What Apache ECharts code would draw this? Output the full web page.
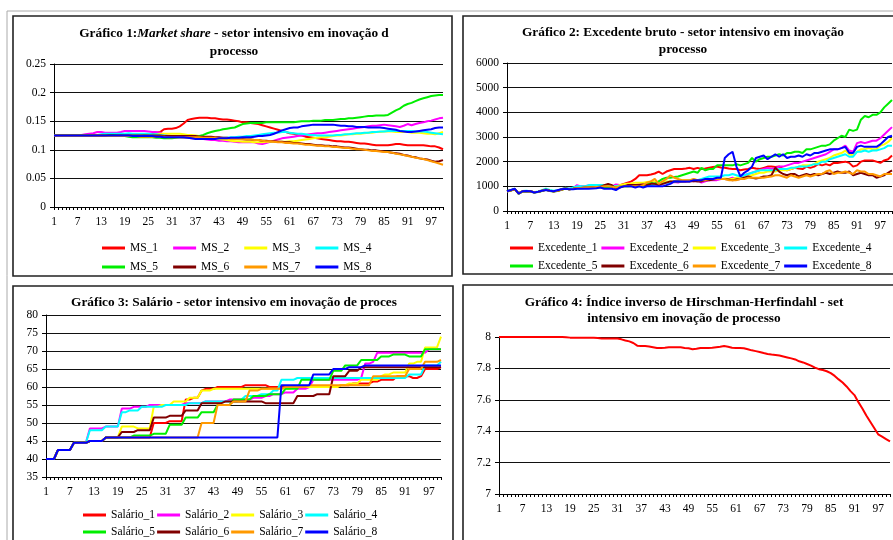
<!DOCTYPE html>
<html><head><meta charset="utf-8">
<script src="https://cdn.jsdelivr.net/npm/echarts@6/dist/echarts.min.js"></script>
<style>html,body{margin:0;padding:0;background:#fff}#c{width:893px;height:540px}</style>
</head><body><div id="c"></div>
<script>
const categories = Array.from({length: 100}, (_, i) => String(i + 1));

const ms1 = [0.125,0.125,0.125,0.125,0.125,0.125,0.125,0.125,0.125,0.125,
0.125,0.125,0.125,0.125,0.125,0.125,0.125,0.125,0.125,0.125,
0.125,0.125,0.125,0.126,0.127,0.127,0.130,0.131,0.136,0.137,
0.137,0.138,0.141,0.146,0.152,0.154,0.155,0.156,0.156,0.156,
0.155,0.155,0.154,0.153,0.153,0.152,0.151,0.150,0.148,0.148,
0.147,0.146,0.145,0.143,0.141,0.139,0.137,0.135,0.133,0.131,
0.129,0.128,0.126,0.125,0.123,0.122,0.121,0.120,0.119,0.118,
0.117,0.116,0.115,0.115,0.114,0.114,0.113,0.112,0.111,0.111,
0.110,0.109,0.108,0.108,0.108,0.108,0.109,0.110,0.110,0.109,
0.108,0.108,0.108,0.108,0.108,0.107,0.106,0.106,0.104,0.101];
const ms2 = [0.126,0.126,0.126,0.126,0.126,0.126,0.126,0.126,0.127,0.128,
0.129,0.131,0.131,0.130,0.130,0.130,0.130,0.131,0.133,0.133,
0.133,0.133,0.133,0.133,0.132,0.131,0.131,0.130,0.126,0.125,
0.124,0.123,0.122,0.121,0.121,0.120,0.120,0.119,0.119,0.118,
0.117,0.117,0.116,0.116,0.115,0.115,0.114,0.113,0.113,0.113,
0.113,0.113,0.111,0.110,0.112,0.114,0.116,0.118,0.120,0.121,
0.122,0.123,0.124,0.125,0.126,0.127,0.128,0.129,0.129,0.130,
0.131,0.132,0.133,0.134,0.135,0.136,0.137,0.138,0.139,0.140,
0.141,0.142,0.142,0.143,0.144,0.143,0.142,0.141,0.140,0.142,
0.145,0.143,0.145,0.147,0.148,0.150,0.151,0.153,0.155,0.156];
const ms3 = [0.125,0.125,0.125,0.125,0.125,0.125,0.125,0.125,0.125,0.125,
0.125,0.125,0.125,0.125,0.124,0.124,0.124,0.124,0.124,0.124,
0.124,0.124,0.124,0.124,0.125,0.126,0.127,0.128,0.128,0.128,
0.128,0.128,0.128,0.127,0.126,0.126,0.125,0.124,0.123,0.122,
0.121,0.120,0.119,0.118,0.117,0.116,0.115,0.115,0.114,0.114,
0.114,0.113,0.113,0.113,0.114,0.114,0.114,0.114,0.114,0.114,
0.115,0.115,0.116,0.117,0.118,0.119,0.120,0.121,0.122,0.122,
0.123,0.124,0.125,0.125,0.126,0.127,0.127,0.128,0.128,0.129,
0.130,0.130,0.131,0.131,0.132,0.132,0.132,0.131,0.131,0.131,
0.131,0.130,0.130,0.130,0.129,0.128,0.128,0.127,0.129,0.131];
const ms4 = [0.125,0.125,0.125,0.125,0.125,0.125,0.125,0.125,0.125,0.125,
0.125,0.126,0.127,0.128,0.128,0.128,0.128,0.128,0.128,0.129,
0.128,0.128,0.128,0.128,0.128,0.127,0.127,0.126,0.125,0.124,
0.123,0.122,0.122,0.122,0.122,0.122,0.121,0.121,0.121,0.121,
0.121,0.120,0.120,0.121,0.121,0.122,0.122,0.123,0.123,0.124,
0.124,0.125,0.126,0.127,0.128,0.129,0.130,0.130,0.131,0.131,
0.130,0.129,0.128,0.128,0.127,0.126,0.126,0.125,0.125,0.125,
0.125,0.125,0.126,0.126,0.127,0.127,0.128,0.129,0.129,0.130,
0.130,0.131,0.131,0.132,0.132,0.133,0.133,0.133,0.133,0.133,
0.133,0.133,0.132,0.132,0.132,0.131,0.130,0.129,0.128,0.127];
const ms5 = [0.126,0.126,0.126,0.126,0.126,0.126,0.126,0.126,0.126,0.126,
0.126,0.126,0.126,0.126,0.126,0.126,0.125,0.125,0.124,0.123,
0.122,0.122,0.122,0.122,0.122,0.122,0.121,0.121,0.120,0.120,
0.120,0.121,0.122,0.122,0.122,0.122,0.123,0.124,0.126,0.129,
0.131,0.133,0.134,0.136,0.137,0.138,0.139,0.142,0.145,0.146,
0.147,0.147,0.147,0.147,0.148,0.148,0.148,0.148,0.148,0.148,
0.148,0.148,0.149,0.150,0.150,0.150,0.151,0.151,0.151,0.152,
0.152,0.152,0.153,0.154,0.154,0.155,0.155,0.156,0.157,0.158,
0.159,0.159,0.160,0.160,0.160,0.161,0.165,0.169,0.172,0.177,
0.180,0.182,0.185,0.188,0.190,0.192,0.194,0.195,0.196,0.196];
const ms6 = [0.125,0.125,0.125,0.125,0.125,0.125,0.125,0.125,0.125,0.125,
0.125,0.125,0.125,0.125,0.125,0.125,0.125,0.125,0.125,0.125,
0.125,0.125,0.125,0.125,0.125,0.125,0.125,0.125,0.124,0.124,
0.124,0.124,0.124,0.124,0.124,0.124,0.124,0.123,0.123,0.123,
0.123,0.122,0.122,0.121,0.121,0.120,0.120,0.119,0.119,0.118,
0.118,0.117,0.117,0.116,0.116,0.115,0.115,0.114,0.114,0.113,
0.113,0.112,0.112,0.111,0.110,0.110,0.109,0.108,0.108,0.107,
0.107,0.106,0.106,0.105,0.104,0.104,0.103,0.102,0.101,0.100,
0.100,0.099,0.099,0.098,0.097,0.096,0.095,0.094,0.093,0.091,
0.090,0.088,0.087,0.085,0.084,0.083,0.081,0.079,0.080,0.082];
const ms7 = [0.125,0.125,0.125,0.125,0.125,0.125,0.125,0.125,0.125,0.125,
0.125,0.125,0.125,0.125,0.124,0.124,0.124,0.124,0.124,0.124,
0.124,0.124,0.123,0.123,0.123,0.123,0.123,0.123,0.123,0.122,
0.122,0.122,0.122,0.122,0.122,0.122,0.122,0.122,0.121,0.121,
0.121,0.121,0.120,0.120,0.120,0.119,0.119,0.119,0.118,0.118,
0.118,0.117,0.117,0.116,0.115,0.115,0.114,0.113,0.113,0.112,
0.112,0.111,0.111,0.110,0.109,0.109,0.108,0.107,0.107,0.106,
0.106,0.105,0.105,0.104,0.103,0.103,0.102,0.101,0.101,0.100,
0.099,0.098,0.098,0.097,0.096,0.096,0.095,0.093,0.092,0.091,
0.089,0.088,0.086,0.085,0.084,0.082,0.080,0.078,0.076,0.074];
const ms8 = [0.125,0.125,0.125,0.125,0.125,0.125,0.125,0.125,0.125,0.125,
0.125,0.125,0.125,0.125,0.125,0.125,0.125,0.125,0.125,0.125,
0.124,0.124,0.124,0.124,0.124,0.124,0.123,0.123,0.122,0.122,
0.122,0.122,0.122,0.122,0.121,0.120,0.119,0.119,0.119,0.119,
0.119,0.119,0.120,0.120,0.120,0.121,0.121,0.121,0.122,0.122,
0.122,0.123,0.124,0.124,0.125,0.126,0.128,0.131,0.134,0.136,
0.138,0.139,0.139,0.141,0.142,0.143,0.144,0.144,0.144,0.144,
0.144,0.144,0.143,0.142,0.142,0.141,0.141,0.140,0.140,0.140,
0.139,0.139,0.139,0.139,0.138,0.137,0.136,0.135,0.133,0.132,
0.131,0.131,0.132,0.133,0.134,0.135,0.136,0.138,0.139,0.139];

const exc1 = [800,840,880,720,800,810,800,760,780,820,
880,830,800,820,880,930,880,910,960,930,
940,950,960,960,980,990,1010,990,1000,1050,
1100,1150,1200,1300,1450,1450,1450,1480,1520,1600,
1500,1600,1650,1700,1700,1700,1720,1750,1700,1750,
1700,1720,1750,1780,1800,1760,1750,1720,1700,1700,
1650,1680,1700,1750,1720,1700,1750,1800,1800,1780,
1800,1700,1650,1700,1750,1720,1700,1800,1750,1800,
1900,1850,1900,1850,1950,1950,1980,2000,1950,1800,
1850,2000,2050,2050,2050,2000,1950,2050,2100,2250];
const exc2 = [790,830,890,720,800,800,790,750,780,820,
870,820,790,830,870,930,900,920,1050,1000,
1000,1030,1000,1050,1050,1020,1000,1000,1080,1050,
1050,1080,1080,1050,1100,1080,1100,1100,1120,1080,
1100,1150,1150,1180,1150,1200,1200,1250,1200,1250,
1150,1200,1250,1250,1250,1300,1300,1300,1350,1300,
1350,1450,1500,1550,1600,1650,1700,1750,1700,1750,
1800,1800,1850,1900,1950,1950,2000,2050,2100,2150,
2200,2250,2300,2400,2500,2500,2550,2650,2450,2400,
2750,2800,2750,2800,2850,2850,2950,3100,3250,3400];
const exc3 = [800,840,880,710,800,800,790,760,780,830,
870,830,800,820,860,910,880,900,950,960,
980,980,970,1000,1000,1010,1000,990,1000,1050,
1080,1100,1120,1150,1150,1150,1180,1200,1200,1100,
1150,1200,1200,1200,1200,1250,1250,1250,1280,1250,
1250,1280,1300,1300,1300,1300,1320,1300,1300,1350,
1350,1350,1400,1450,1500,1550,1550,1600,1600,1600,
1650,1650,1650,1700,1750,1800,1850,1850,1850,1900,
2000,2050,2100,2150,2250,2300,2350,2450,2300,2250,
2400,2500,2500,2550,2500,2500,2650,2700,2800,2950];
const exc4 = [810,850,900,720,810,820,800,760,790,840,
900,850,820,840,880,940,900,950,1000,1000,
1000,1050,1050,1050,1050,1050,1050,1000,1000,1000,
1000,1000,1020,1000,1000,1020,1050,1050,1080,1100,
1100,1150,1150,1200,1200,1200,1220,1250,1250,1250,
1300,1350,1400,1400,1400,1400,1450,1450,1500,1450,
1400,1450,1500,1550,1600,1650,1650,1650,1650,1650,
1700,1700,1700,1750,1750,1800,1800,1800,1850,1900,
1900,2000,2000,2100,2150,2200,2250,2300,2200,2200,
2400,2400,2450,2400,2450,2450,2500,2550,2650,2650];
const exc5 = [790,830,880,700,790,800,790,750,770,810,
860,810,790,810,860,910,880,900,930,920,
930,940,940,950,960,970,980,970,950,980,
1000,1000,1000,1020,1050,1050,1100,1150,1100,1200,
1300,1350,1350,1380,1400,1450,1500,1550,1600,1550,
1750,1650,1700,1700,1850,1850,1850,1850,1850,1900,
1850,1900,1950,2150,2000,2100,2150,2200,2200,2250,
2300,2250,2350,2350,2400,2400,2350,2500,2500,2550,
2600,2650,2650,2700,2850,2950,3050,3000,3300,3250,
3300,3700,3850,3800,3900,3900,4000,4200,4350,4500];
const exc6 = [800,840,880,710,800,810,800,760,780,820,
860,820,800,820,870,910,880,900,930,930,
950,950,960,970,980,1050,1100,1050,900,950,
1000,1050,1050,1050,1050,1080,1050,1100,1100,1050,
1100,1150,1200,1200,1200,1200,1200,1200,1220,1200,
1200,1250,1250,1280,1300,1300,1300,1280,1250,1280,
1300,1350,1400,1350,1320,1350,1400,1400,1450,1750,
1600,1500,1450,1500,1500,1400,1450,1500,1450,1500,
1450,1500,1550,1500,1550,1600,1550,1550,1600,1450,
1500,1550,1500,1450,1450,1350,1400,1450,1550,1650];
const exc7 = [800,840,880,710,800,800,790,760,780,820,
860,820,800,820,860,910,880,900,930,930,
950,950,960,970,980,1000,1000,980,950,1000,
1000,1000,1000,1000,1000,1050,1150,1200,1300,1100,
1200,1300,1450,1350,1300,1250,1250,1250,1300,1250,
1250,1250,1300,1300,1300,1300,1300,1250,1250,1250,
1300,1300,1350,1350,1350,1350,1350,1380,1400,1450,
1450,1400,1350,1450,1400,1350,1400,1450,1400,1450,
1500,1500,1600,1650,1500,1550,1550,1600,1550,1500,
1650,1600,1600,1500,1500,1450,1400,1500,1500,1500];
const exc8 = [800,850,900,700,800,810,800,750,780,820,
850,820,800,840,880,900,880,880,900,900,
900,900,910,920,950,900,900,900,850,950,
1000,1000,1000,950,1000,950,1000,1000,1000,1000,
1000,1050,1100,1200,1200,1200,1200,1200,1250,1250,
1250,1300,1300,1300,1350,1350,2150,2300,2400,1800,
1400,1550,1650,1800,2150,2200,2250,2100,2200,2300,
2200,2300,2150,2200,2200,2250,2200,2300,2250,2350,
2350,2400,2450,2500,2500,2500,2550,2600,2350,2350,
2600,2650,2600,2600,2600,2600,2700,2850,3000,3050];

const sal1 = [40,40,40,42.5,42.5,42.5,42.5,44.5,44.5,44.5,
44.5,45,45,45,45,46,46,46,46,46,
46,46,46,46,46,46,46,50,50,50,
50,50.5,50.5,50.5,50.5,56.5,56.5,57,57,59,
59.5,59.5,59.5,60,60,60,60,60,60,60,
60.5,60.5,60.5,60.5,60.5,60.5,60,60,60,60,
60,60,60,60,60,60,60,60,60,60,
60,60,60,60,60.5,60.5,60.5,61,61,61,
61,61,61.5,61.5,62,62,62,62,63,63,
63,63,62.5,62.5,63,65,65,65,65,65.5];
const sal2 = [40,40,40,42.5,42.5,42.5,42.5,44.5,44.5,44.5,
44.5,48.5,48.5,48.5,48.5,49,49,49,49,54,
54,54,54.5,54.5,54.5,54.5,55,55,55,55,
55,55,55,55,55,55.5,55.5,55.5,55.5,55.5,
56,56,56,56,56,56,56.5,56.5,56.5,56.5,
56.5,56.5,57,57,57,57.5,57.5,58,58,58,
58.5,58.5,58.5,59.5,59.5,59.5,60,62,62,62,
62,62,62,62,62,62,62,62,62,62.5,
66.5,66.5,67,69.5,69.5,69.5,69.5,69.5,69.5,69.5,
69.5,69.5,69.5,69.5,69.5,69.5,70.5,70.5,70.5,70.5];
const sal3 = [40,40,40,42.5,42.5,42.5,42.5,44.5,44.5,44.5,
44.5,45,45,45,45,46,46,46,46,49,
49,49,49,48.5,48.5,48.5,48.5,54.5,54.5,55,
55,55,56,56,56,56,57,57,57,59,
59,59,59.5,59.5,59.5,59.5,59.5,59.5,59.5,59.5,
59.5,59.5,59.5,59.5,59.5,59.5,59.5,59.5,59.5,59.5,
59.5,59.5,60,60,60,60,60,60,60,60,
60,60,60,60,60.5,60.5,61,61,61,62,
62,62,62,62,63,63.5,63.5,64,64,64,
64,66.5,66.5,67,67,71,71,71,71,74];
const sal4 = [40,40,40,42.5,42.5,42.5,42.5,44.5,44.5,44.5,
44.5,48,48,48,48,49,49,49,49,53,
53,53.5,53.5,53.5,54.5,54.5,54.5,54.5,54.5,54.5,
55,55,55,55,55,55,55.5,55.5,55.5,55.5,
56,56,56,56,56,56,56,56,56,56.5,
57.5,57.5,57.5,57.5,58,58,58,59,59,62,
62,62,62,62.5,62.5,62.5,62.5,62.5,62.5,62.5,
62.5,62.5,62.5,62.5,62.5,62.5,62.5,62.5,62.5,62.5,
62.5,62.5,62.5,62.5,62.5,62.5,62.5,62.5,62.5,62.5,
62.5,63.5,63.5,63.5,63.5,66,66,66,66,67];
const sal5 = [40,40,40,42.5,42.5,42.5,42.5,44.5,44.5,44.5,
44.5,45,45,45,45,46,46,46,46,46,
46,46,46.5,46.5,46.5,46.5,46.5,47,47,47,
47,49.5,49.5,49.5,49.5,51.5,51.5,51.5,51.5,53,
53,53,53,55,55,55,55,56.5,56.5,56.5,
56.5,56.5,57.5,57.5,57.5,57.5,58,58,58,58,
59.5,59.5,59.5,59.5,62,62,62,62,62,62,
62,62,64.5,64.5,64.5,66,66,66,66,67.5,
67.5,67.5,67.5,67.5,68.5,68.5,68.5,69,69,69,
69,68.5,68.5,68.5,68.5,70.5,70.5,70.5,70.5,70.5];
const sal6 = [40,40,40,42.5,42.5,42.5,42.5,44.5,44.5,44.5,
44.5,45,45,45,45,46,46,46,46,47.5,
47.5,47.5,47.5,48,48,48,48,51.5,51.5,51.5,
51.5,52,52,52,52,53.5,53.5,53.5,53.5,55.5,
55.5,55.5,55.5,55.5,55.5,56,56,56,56,56,
56,56,56,56,56,55.5,55.5,55.5,55.5,55.5,
55.5,55.5,55.5,57.5,57.5,57.5,57.5,57.5,58,58,
58,58,63,63,63,63,64.5,64.5,64.5,65.5,
65.5,65.5,65.5,65.5,65.5,65.5,65.5,65.5,65.5,65.5,
65.5,65.5,65.5,65.5,65.5,65.5,65.5,65.5,65.5,65.5];
const sal7 = [40,40,40,42.5,42.5,42.5,42.5,44.5,44.5,44.5,
44.5,45,45,45,45,46,46,46,46,46,
46,46,46,46,46,46,46,46,46,46,
46,46,46,46,46,46,46,46,46,50,
50,50,50,55,55,55,55,56,56,56,
56,59,59,59,59.5,59.5,59.5,59.5,59.5,59.5,
60,60,60,60,60,60,60.5,60.5,60.5,60.5,
60.5,60.5,60.5,60.5,60.5,60.5,60.5,60.5,60.5,60.5,
60.5,60.5,63,63,63,63,63,63,63,63,
63,65,65,65,65,67,67,67,67,67.5];
const sal8 = [40,40,40,42.5,42.5,42.5,42.5,44.5,44.5,44.5,
44.5,45,45,45,45,46,46,46,46,46,
46,46,46,46,46,46,46,46,46,46,
46,46,46,46,46,46,46,46,46,46,
46,46,46,46,46,46,46,46,46,46,
46,46,46,46,46,46,46,46,46,60.5,
60.5,60.5,60.5,60.5,60.5,60.5,60.5,63.5,63.5,63.5,
63.5,63.5,65,65,65,65,65.5,65.5,65.5,65.5,
66,66,66,66,66,66,66,66,66,66,
66,66,66,66,66,66,66,66,66,66];

const hh = [8,8,8,8,8,8,8,8,8,8,
8,8,8,8,8,8,8,7.998,7.996,7.996,
7.996,7.996,7.996,7.996,7.995,7.994,7.99,7.99,7.99,7.99,
7.99,7.985,7.978,7.972,7.962,7.945,7.942,7.942,7.94,7.935,
7.93,7.93,7.932,7.935,7.935,7.935,7.934,7.93,7.928,7.922,
7.925,7.93,7.93,7.93,7.932,7.935,7.938,7.942,7.938,7.932,
7.93,7.93,7.928,7.922,7.915,7.91,7.905,7.898,7.892,7.888,
7.886,7.882,7.876,7.87,7.864,7.857,7.845,7.838,7.828,7.818,
7.805,7.795,7.79,7.782,7.77,7.752,7.73,7.71,7.685,7.655,
7.63,7.585,7.545,7.5,7.46,7.42,7.38,7.365,7.35,7.335];

const msNames = ['MS_1','MS_2','MS_3','MS_4','MS_5','MS_6','MS_7','MS_8'];
const excNames = ['Excedente_1','Excedente_2','Excedente_3','Excedente_4','Excedente_5','Excedente_6','Excedente_7','Excedente_8'];
const salNames = ['Salário_1','Salário_2','Salário_3','Salário_4','Salário_5','Salário_6','Salário_7','Salário_8'];
const hhName = 'Índice inverso HH';
const colors = ['#FF0000','#FF00FF','#FFFF00','#00FFFF','#00EE00','#800000','#FF9900','#0000FF'];

const FONT = "'Liberation Serif', 'Times New Roman', serif";
const msData = [ms1, ms2, ms3, ms4, ms5, ms6, ms7, ms8];
const excData = [exc1, exc2, exc3, exc4, exc5, exc6, exc7, exc8];
const salData = [sal1, sal2, sal3, sal4, sal5, sal6, sal7, sal8];

const chart = echarts.init(document.getElementById('c'), null, {renderer: 'canvas'});

function xAx(gi) {
  return {
    type: 'category', gridIndex: gi, data: categories, boundaryGap: false,
    axisLine: {show: true, lineStyle: {color: '#000', width: 1}},
    axisTick: {show: true, interval: 0, length: 3, lineStyle: {color: '#000'}},
    axisLabel: {interval: 5, margin: 9, color: '#000', fontFamily: FONT, fontSize: 11.5},
    splitLine: {show: false}
  };
}
function yAx(gi, min, max, interval) {
  return {
    type: 'value', gridIndex: gi, min, max, interval,
    axisLine: {show: true, lineStyle: {color: '#000', width: 1}},
    axisTick: {show: true, length: 4, lineStyle: {color: '#000'}},
    axisLabel: {margin: 8, color: '#000', fontFamily: FONT, fontSize: 11.5,
      formatter: v => String(Math.round(v * 1000) / 1000)},
    splitLine: {show: true, lineStyle: {color: '#111', width: 1}}
  };
}
function legendRow(names, left, top, textW, gap) {
  return {
    data: names, left, top, orient: 'horizontal', padding: 0,
    icon: 'rect', itemWidth: 23, itemHeight: 3, itemGap: gap, selectedMode: false,
    textStyle: {fontFamily: FONT, fontSize: 11.5, color: '#000', width: textW, padding: [0,0,0,0]}
  };
}
function titleText(x, y, text, rich) {
  return {type: 'text', x, y, silent: true,
    style: {text, textAlign: 'center', textVerticalAlign: 'middle', fill: '#000',
      font: 'bold 13.3px ' + FONT, rich}};
}

const richB = {
  b: {fontFamily: FONT, fontWeight: 'bold', fontSize: 13.3, fill: '#000'},
  i: {fontFamily: FONT, fontWeight: 'bold', fontStyle: 'italic', fontSize: 13.3, fill: '#000'}
};

const series = [];
msNames.forEach((n, k) => series.push({name: n, type: 'line', xAxisIndex: 0, yAxisIndex: 0, data: msData[k], showSymbol: false, symbol: 'none', color: colors[k], lineStyle: {width: 2, color: colors[k]}, animation: false}));
excNames.forEach((n, k) => series.push({name: n, type: 'line', xAxisIndex: 1, yAxisIndex: 1, data: excData[k], showSymbol: false, symbol: 'none', color: colors[k], lineStyle: {width: 2, color: colors[k]}, animation: false}));
salNames.forEach((n, k) => series.push({name: n, type: 'line', xAxisIndex: 2, yAxisIndex: 2, data: salData[k], showSymbol: false, symbol: 'none', color: colors[k], lineStyle: {width: 2, color: colors[k]}, animation: false}));
series.push({name: hhName, type: 'line', xAxisIndex: 3, yAxisIndex: 3, data: hh, showSymbol: false, symbol: 'none', color: '#FF0000', lineStyle: {width: 2, color: '#FF0000'}, animation: false});

chart.setOption({
  backgroundColor: '#fff',
  animation: false,
  grid: [
    {left: 54, top: 64, width: 389, height: 143},
    {left: 507, top: 63, width: 385, height: 148},
    {left: 46, top: 315, width: 395, height: 162},
    {left: 499, top: 337, width: 391, height: 157}
  ],
  xAxis: [xAx(0), xAx(1), xAx(2), xAx(3)],
  yAxis: [yAx(0, 0, 0.25, 0.05), yAx(1, 0, 6000, 1000), yAx(2, 35, 80, 5), yAx(3, 7, 8, 0.2)],
  legend: [
    legendRow(msNames.slice(0, 4), 102, 242, 30, 15),
    legendRow(msNames.slice(4), 102, 261, 30, 15),
    legendRow(excNames.slice(0, 4), 510, 242, 60, 4),
    legendRow(excNames.slice(4), 510, 260, 60, 4),
    legendRow(salNames.slice(0, 4), 83, 509, 45, 2),
    legendRow(salNames.slice(4), 83, 526, 45, 2)
  ],
  graphic: [
    {type: 'line', silent: true, shape: {x1: 7, y1: 11, x2: 893, y2: 11}, style: {stroke: '#aaa', lineWidth: 1}},
    {type: 'line', silent: true, shape: {x1: 7, y1: 11, x2: 7, y2: 540}, style: {stroke: '#aaa', lineWidth: 1}},
    {type: 'rect', silent: true, shape: {x: 13, y: 16, width: 439, height: 260}, style: {fill: 'none', stroke: '#222', lineWidth: 1.6}},
    {type: 'rect', silent: true, shape: {x: 463, y: 16, width: 440, height: 258}, style: {fill: 'none', stroke: '#222', lineWidth: 1.6}},
    {type: 'rect', silent: true, shape: {x: 13, y: 286, width: 440, height: 260}, style: {fill: 'none', stroke: '#222', lineWidth: 1.6}},
    {type: 'rect', silent: true, shape: {x: 463, y: 285, width: 440, height: 260}, style: {fill: 'none', stroke: '#222', lineWidth: 1.6}},
    titleText(234, 34, '{b|Gráfico 1:}{i|Market share}{b| - setor intensivo em inovação d}', richB),
    titleText(234, 52, '{b|processo}', richB),
    titleText(683, 33, '{b|Gráfico 2: Excedente bruto - setor intensivo em inovação}', richB),
    titleText(683, 50, '{b|processo}', richB),
    titleText(234, 303, '{b|Gráfico 3: Salário - setor intensivo em inovação de proces}', richB),
    titleText(684, 303, '{b|Gráfico 4: Índice inverso de Hirschman-Herfindahl - set}', richB),
    titleText(684, 319, '{b|intensivo em inovação de processo}', richB)
  ],
  series
});
</script></body></html>
